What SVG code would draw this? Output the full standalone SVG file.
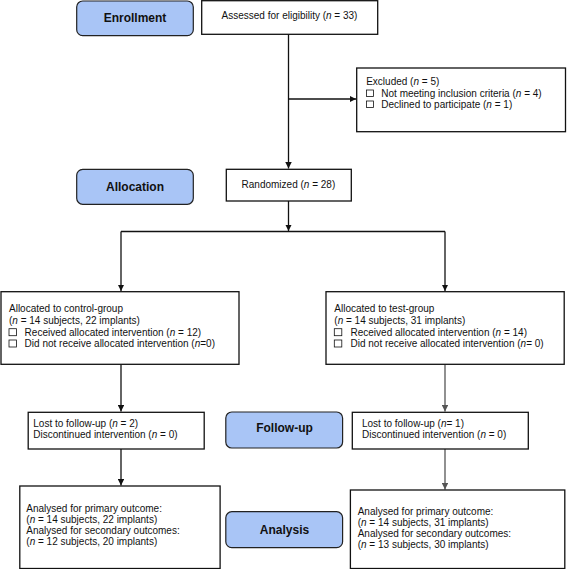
<svg xmlns="http://www.w3.org/2000/svg" width="567" height="569" viewBox="0 0 567 569">
<defs>
<marker id="ah" viewBox="0 0 8 8" refX="8" refY="4" markerWidth="6.5" markerHeight="6.5" markerUnits="userSpaceOnUse" orient="auto">
<path d="M0,0 L8,4 L0,8 z" fill="#111"/>
</marker>
<marker id="ahg" viewBox="0 0 8 8" refX="8" refY="4" markerWidth="6.5" markerHeight="6.5" markerUnits="userSpaceOnUse" orient="auto">
<path d="M0,0 L8,4 L0,8 z" fill="#555"/>
</marker>
</defs>
<style>
.box{fill:#fff;stroke:#111;stroke-width:1.3}
.stage{fill:#a9c5f6;stroke:#222;stroke-width:1.2}
.t{font-family:"Liberation Sans",Arial,sans-serif;font-size:10px;fill:#111}
.s{font-family:"Liberation Sans",Arial,sans-serif;font-size:12px;font-weight:bold;fill:#111;text-anchor:middle}
.c{text-anchor:middle}
.cb{fill:#fff;stroke:#111;stroke-width:0.8}
.ln{fill:none;stroke:#111;stroke-width:1.3}
.lg{fill:none;stroke:#555;stroke-width:1.3}
.i{font-style:italic}
</style>
<rect width="567" height="569" fill="#fff"/>

<g id="connectors">
<path class="ln" d="M288.5,34 V168.5" marker-end="url(#ah)"/>
<path class="ln" d="M288.5,99 H356" marker-end="url(#ah)"/>
<path class="ln" d="M288.5,201 V231" marker-end="url(#ah)"/>
<path class="ln" d="M121,231.5 H445"/>
<path class="ln" d="M121,231.5 V291" marker-end="url(#ah)"/>
<path class="ln" d="M445,231.5 V291" marker-end="url(#ah)"/>
<path class="ln" d="M121,364.5 V411.5" marker-end="url(#ah)"/>
<path class="lg" d="M445,364.5 V411.5" marker-end="url(#ahg)"/>
<path class="ln" d="M121,449 V485.5" marker-end="url(#ah)"/>
<path class="lg" d="M445,449 V489.5" marker-end="url(#ahg)"/>
</g>

<g id="enrollment">
<rect class="stage" x="76.7" y="1" width="116.6" height="34.7" rx="6"/>
<text class="s" x="135" y="22">Enrollment</text>
</g>
<g id="assessed">
<rect class="box" x="201.7" y="0.7" width="176" height="33.6"/>
<text class="t c" x="289.5" y="18.7">Assessed for eligibility (<tspan class="i">n</tspan> = 33)</text>
</g>
<g id="excluded">
<rect class="box" x="356.7" y="68" width="208.8" height="63.7"/>
<text class="t" x="366.2" y="85">Excluded  (<tspan class="i">n</tspan> = 5)</text>
<rect class="cb" x="366.5" y="90" width="7" height="6.5"/>
<text class="t" x="381.3" y="97">Not meeting inclusion criteria (<tspan class="i">n</tspan> = 4)</text>
<rect class="cb" x="366.5" y="101" width="7" height="6.5"/>
<text class="t" x="381.3" y="108">Declined to participate (<tspan class="i">n</tspan> = 1)</text>
</g>
<g id="allocation">
<rect class="stage" x="76.7" y="169.3" width="116.6" height="35" rx="6"/>
<text class="s" x="135" y="190.5">Allocation</text>
</g>
<g id="randomized">
<rect class="box" x="226.3" y="169.3" width="125" height="31.7"/>
<text class="t c" x="288.4" y="187.8">Randomized (<tspan class="i">n</tspan> = 28)</text>
</g>
<g id="control">
<rect class="box" x="1" y="291.7" width="238" height="72.6"/>
<text class="t" x="9" y="312">Allocated to control-group</text>
<text class="t" x="9" y="323.5">(<tspan class="i">n</tspan> = 14 subjects, 22 implants)</text>
<rect class="cb" x="9" y="328.7" width="7.5" height="7"/>
<text class="t" x="24.6" y="335.5">Received allocated intervention (<tspan class="i">n</tspan> = 12)</text>
<rect class="cb" x="9" y="340" width="7.5" height="7"/>
<text class="t" x="24.6" y="346.8">Did not receive allocated intervention (<tspan class="i">n</tspan>=0)</text>
</g>
<g id="test">
<rect class="box" x="326" y="291.7" width="238.2" height="72.6"/>
<text class="t" x="334.3" y="312">Allocated to test-group</text>
<text class="t" x="334.3" y="323.5">(<tspan class="i">n</tspan> = 14 subjects, 31 implants)</text>
<rect class="cb" x="334.3" y="328.7" width="7.5" height="7"/>
<text class="t" x="350.5" y="335.5">Received allocated intervention (<tspan class="i">n</tspan> = 14)</text>
<rect class="cb" x="334.3" y="340" width="7.5" height="7"/>
<text class="t" x="350.5" y="346.8">Did not receive allocated intervention (<tspan class="i">n</tspan>= 0)</text>
</g>
<g id="lost-control">
<rect class="box" x="28.2" y="412.3" width="176" height="36.7"/>
<text class="t" x="33.3" y="426.8">Lost to follow-up (<tspan class="i">n</tspan> = 2)</text>
<text class="t" x="33.3" y="438">Discontinued intervention (<tspan class="i">n</tspan> = 0)</text>
</g>
<g id="followup">
<rect class="stage" x="225.8" y="412" width="116.8" height="36" rx="6"/>
<text class="s" x="284.5" y="432.2">Follow-up</text>
</g>
<g id="lost-test">
<rect class="box" x="352.3" y="412.3" width="176" height="36.7"/>
<text class="t" x="362" y="426.8">Lost to follow-up (<tspan class="i">n</tspan>= 1)</text>
<text class="t" x="362" y="438">Discontinued intervention (<tspan class="i">n</tspan> = 0)</text>
</g>
<g id="analysis-control">
<rect class="box" x="19.8" y="486" width="200.3" height="82.5"/>
<text class="t" x="26.3" y="511.8">Analysed for primary outcome:</text>
<text class="t" x="26.3" y="523">(<tspan class="i">n</tspan> = 14 subjects, 22 implants)</text>
<text class="t" x="26.3" y="534.2">Analysed for secondary outcomes:</text>
<text class="t" x="26.3" y="545.4">(<tspan class="i">n</tspan> = 12 subjects, 20 implants)</text>
</g>
<g id="analysis">
<rect class="stage" x="225.8" y="511.7" width="116.8" height="36" rx="6"/>
<text class="s" x="284.5" y="533.5">Analysis</text>
</g>
<g id="analysis-test">
<rect class="box" x="350.4" y="490" width="214.4" height="78.5"/>
<text class="t" x="357.7" y="514.5">Analysed for primary outcome:</text>
<text class="t" x="357.7" y="525.8">(<tspan class="i">n</tspan> = 14 subjects, 31 implants)</text>
<text class="t" x="357.7" y="537">Analysed for secondary outcomes:</text>
<text class="t" x="357.7" y="548.4">(<tspan class="i">n</tspan> = 13 subjects, 30 implants)</text>
</g>
</svg>
